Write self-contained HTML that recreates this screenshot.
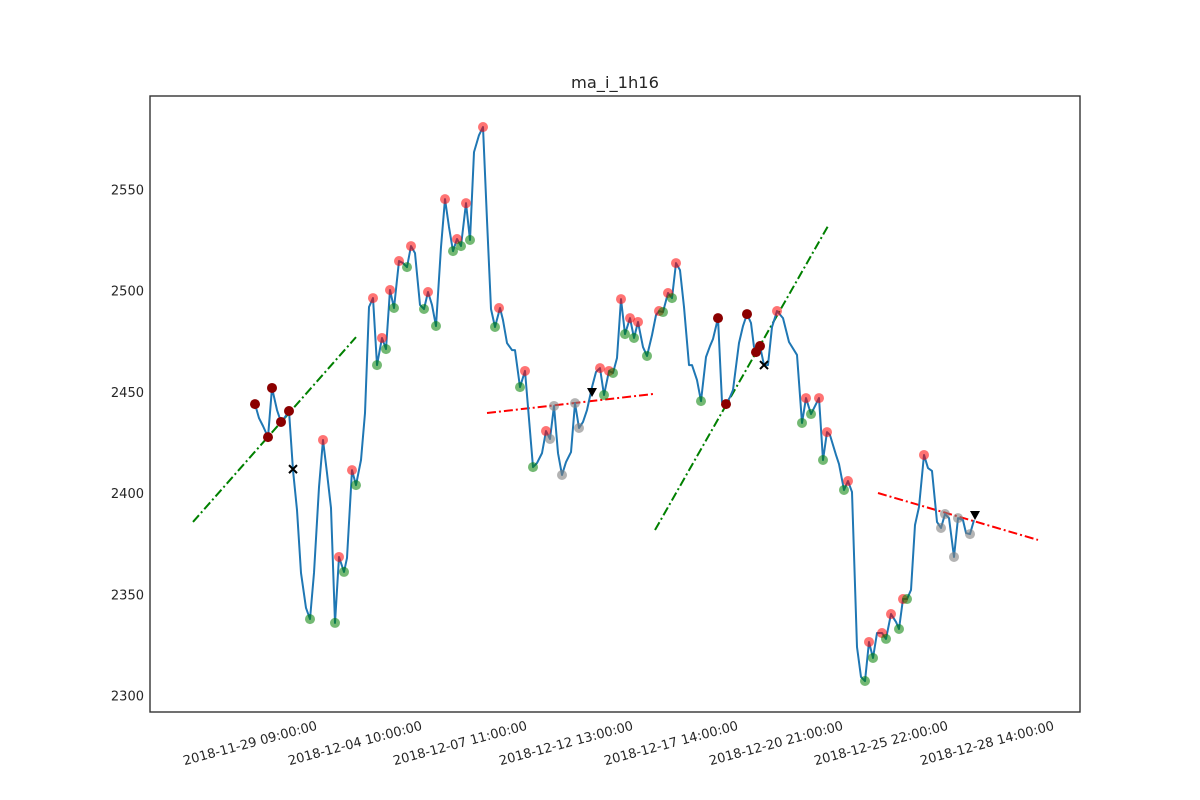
<!DOCTYPE html>
<html><head><meta charset="utf-8"><style>
html,body{margin:0;padding:0;background:#fff;}
svg{display:block;font-family:"DejaVu Sans","Liberation Sans",sans-serif;}
</style></head><body>
<svg id="chart" width="1200" height="800">
<rect x="0" y="0" width="1200" height="800" fill="#fff"/>
<text x="615" y="88" font-size="16.3" text-anchor="middle" fill="#262626">ma_i_1h16</text>
<g id="plot"></g>
<rect x="150" y="96" width="930" height="616" fill="none" stroke="#333" stroke-width="1.4"/>
</svg>
<script>
const lineX=[105,109,113,118,122,127,131,135,139,143,147,151,156,160,164,169,173,177,181,185,189,194,197,202,206,211,215,219,223,227,232,236,240,244,249,253,257,261,265,270,274,278,282,286,291,295,299,303,307,311,316,320,324,329,333,337,341,345,350,353,357,362,365,370,375,383,387,392,396,400,404,408,412,416,421,425,429,433,437,442,446,450,454,459,463,467,471,475,480,484,488,493,497,502,506,509,513,518,522,526,530,534,539,542,547,551,556,560,563,568,572,576,580,583,589,593,597,601,604,610,614,618,622,627,633,639,647,652,656,661,669,673,677,680,686,689,694,698,702,707,711,715,719,723,727,732,736,741,746,749,753,757,761,765,769,774,778,782,787,791,795,799,804,808,813,816,820,824];
const lineV=[2444.2,2437.3,2433.4,2427.9,2452.2,2441.3,2435.4,2437.8,2440.8,2411.6,2391.9,2360.8,2343.5,2338,2360.8,2403.2,2426.5,2410.2,2392.9,2336.1,2368.7,2361.3,2368.2,2411.6,2404.2,2416.6,2439.8,2492.2,2496.6,2463.5,2476.9,2471.4,2500.6,2491.7,2514.9,2513.9,2511.9,2522.3,2518.8,2493.2,2491.2,2499.6,2493.2,2482.8,2521.8,2545.5,2531.7,2519.8,2525.8,2522.3,2543.5,2525.3,2568.7,2577.1,2581.1,2535.1,2491.2,2482.3,2491.7,2485.7,2474.4,2470.9,2470.9,2452.6,2460.6,2413.1,2415.1,2420,2430.9,2427,2443.3,2420,2409.2,2415.6,2420.5,2444.7,2432.4,2435.4,2441.3,2452.6,2460.1,2462,2448.7,2460.6,2459.6,2467,2496.1,2478.8,2486.7,2476.9,2484.8,2472.4,2468,2478.3,2488.2,2490.2,2489.7,2499.1,2496.6,2513.9,2510.4,2492.2,2463.5,2463.5,2456.1,2445.7,2467.5,2472.9,2476.4,2486.7,2445.2,2444.2,2447.7,2451.2,2474.4,2482.8,2488.7,2484.3,2472.4,2472.9,2463.5,2463.5,2482.3,2490.2,2486.7,2474.9,2468.5,2434.9,2447.2,2439.3,2447.2,2416.6,2430.4,2428.9,2419.1,2414.6,2401.8,2406.2,2400.8,2324.2,2309.4,2307.4,2326.7,2318.8,2331.1,2331.1,2328.2,2340.5,2336.6,2333.1,2347.9,2347.9,2352.4,2384.5,2393.4,2419.1,2412.6,2411.2,2386,2383,2389.9,2387.9,2368.7,2387.9,2386.9,2380.5,2380,2386.9];
const redX=[173,189,202,223,232,240,249,261,278,295,307,316,333,349,375,396,450,459,471,480,488,509,518,526,627,656,669,677,698,719,732,741,753,774];
const redV=[2426.5,2368.7,2411.6,2496.6,2476.9,2500.6,2514.9,2522.3,2499.6,2545.5,2525.8,2543.5,2581.1,2491.7,2460.6,2430.9,2462,2460.6,2496.1,2486.7,2484.8,2490.2,2499.1,2513.9,2490.2,2447.2,2447.2,2430.4,2406.2,2326.7,2331.1,2340.5,2347.9,2419.1];
const greenX=[160,185,194,206,227,236,244,257,274,286,303,311,320,345,370,383,454,463,475,484,497,513,522,551,652,661,673,694,715,723,736,749,757];
const greenV=[2338,2336.1,2361.3,2404.2,2463.5,2471.4,2491.7,2511.9,2491.2,2482.8,2519.8,2522.3,2525.3,2482.3,2452.6,2413.1,2448.7,2459.6,2478.8,2476.9,2468,2489.7,2496.6,2445.7,2434.9,2439.3,2416.6,2401.8,2307.4,2318.8,2328.2,2333.1,2347.9];
const greyX=[400,404,412,425,429,791,795,804,808,820];
const greyV=[2427,2443.3,2409.2,2444.7,2432.4,2383,2389.9,2368.7,2387.9,2380];
const darkX=[105,118,122,131,139,568,576,597,606,610];
const darkV=[2444.2,2427.9,2452.2,2435.4,2440.8,2486.7,2444.2,2488.7,2469.9,2472.9];
const crossX=[143,614];
const crossV=[2412.1,2463.5];
const triX=[442,825];
const triV=[2450.2,2389.4];
const trendX1=[43,337,505,728];
const trendV1=[2386,2439.8,2382,2400.3];
const trendX2=[206,503,678,888];
const trendV2=[2477.3,2449.2,2532.2,2377.1];
const trendColor=["green","red","green","red"];
const yTicks=[2300,2350,2400,2450,2500,2550];
const xTickPos=[100,205,310,416,521,626,731,837];
const xTickLabels=["2018-11-29 09:00:00","2018-12-04 10:00:00","2018-12-07 11:00:00","2018-12-12 13:00:00","2018-12-17 14:00:00","2018-12-20 21:00:00","2018-12-25 22:00:00","2018-12-28 14:00:00"];

const NS="http://www.w3.org/2000/svg";
const svg=document.getElementById('chart');
const plot=document.getElementById('plot');
const xs=x=>150+x;
const ys=v=>696-(v-2300)*2.024;
function mk(tag,attrs,parent){const e=document.createElementNS(NS,tag);for(const k in attrs)e.setAttribute(k,attrs[k]);(parent||plot).appendChild(e);return e;}

yTicks.forEach(t=>{
  const e=mk('text',{x:144,y:ys(t)+4.5,'font-size':13,'text-anchor':'end',fill:'#262626'},svg);
  e.textContent=t;
  
  
});
xTickPos.forEach((p,i)=>{
  const cx=xs(p),cy=743;
  const e=mk('text',{x:cx,y:cy+4.5,'font-size':13,'text-anchor':'middle',fill:'#262626',transform:`rotate(-15 ${cx} ${cy})`},svg);
  e.textContent=xTickLabels[i];
  
  
});
trendX1.forEach((x,i)=>{
  const e=mk('line',{x1:xs(x),y1:ys(trendV1[i]),x2:xs(trendX2[i]),y2:ys(trendV2[i]),stroke:trendColor[i],'stroke-width':2,'stroke-dasharray':'9,3,2,3'});
  
  
});
const pts=lineX.map((x,i)=>xs(x)+','+ys(lineV[i])).join(' ');
const pl=mk('polyline',{points:pts,fill:'none',stroke:'#1f77b4','stroke-width':2,'stroke-linejoin':'round'});


function dots(X,V,fill,op,name){X.forEach((x,i)=>{const c=mk('circle',{cx:xs(x),cy:ys(V[i]),r:5,fill:fill,'fill-opacity':op});

});}
dots(redX,redV,'#ff0000',0.55,'peak-marker');
dots(greenX,greenV,'#008000',0.55,'trough-marker');
dots(greyX,greyV,'#808080',0.6,'grey-marker');
dots(darkX,darkV,'#8b0000',1,'signal-marker');
crossX.forEach((x,i)=>{const cx=xs(x),cy=ys(crossV[i]);
const p=mk('path',{d:`M${cx-4} ${cy-4}L${cx+4} ${cy+4}M${cx+4} ${cy-4}L${cx-4} ${cy+4}`,stroke:'#000','stroke-width':2});

});
triX.forEach((x,i)=>{const cx=xs(x),cy=ys(triV[i]);
const p=mk('path',{d:`M${cx-5} ${cy-4}L${cx+5} ${cy-4}L${cx} ${cy+5}Z`,fill:'#000'});

});
</script>
</body></html>
